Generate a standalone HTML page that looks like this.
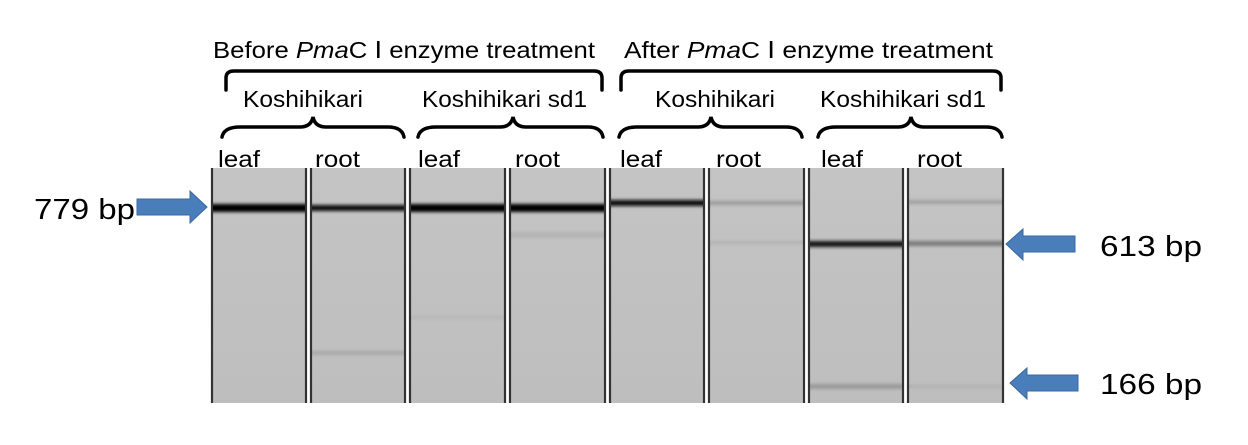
<!DOCTYPE html>
<html><head><meta charset="utf-8"><style>
html,body{margin:0;padding:0;background:#fff;}
svg{display:block;}
text{font-family:"Liberation Sans",sans-serif;fill:#000;}
</style></head><body>
<svg width="1248" height="445" viewBox="0 0 1248 445" xmlns="http://www.w3.org/2000/svg">
<defs>
<linearGradient id="lane" x1="0" y1="0" x2="0" y2="1">
<stop offset="0" stop-color="#c4c4c4"/><stop offset="1" stop-color="#bebebe"/>
</linearGradient>
<filter id="bl" x="-5%" y="-200%" width="110%" height="500%"><feGaussianBlur stdDeviation="0 1.5"/></filter>
</defs>
<g>
<rect x="212" y="168" width="94" height="235" fill="url(#lane)"/>
<rect x="311" y="168" width="94" height="235" fill="url(#lane)"/>
<rect x="410" y="168" width="95" height="235" fill="url(#lane)"/>
<rect x="510" y="168" width="95" height="235" fill="url(#lane)"/>
<rect x="610" y="168" width="94" height="235" fill="url(#lane)"/>
<rect x="709" y="168" width="95" height="235" fill="url(#lane)"/>
<rect x="809" y="168" width="94" height="235" fill="url(#lane)"/>
<rect x="908" y="168" width="95" height="235" fill="url(#lane)"/>
</g>
<g filter="url(#bl)">
<rect x="212" y="204" width="94" height="8" fill="#000"/>
<rect x="311" y="205" width="94" height="6" fill="#111"/>
<rect x="410" y="204" width="95" height="8" fill="#000"/>
<rect x="510" y="204" width="95" height="8" fill="#000"/>
<rect x="610" y="200" width="94" height="6" fill="#111"/>
<rect x="709" y="201" width="95" height="4" fill="#9a9a9a"/>
<rect x="709" y="241" width="95" height="3" fill="#b0b0b0"/>
<rect x="809" y="241" width="94" height="6" fill="#151515"/>
<rect x="908" y="241" width="95" height="5" fill="#7a7a7a"/>
<rect x="908" y="200" width="95" height="4" fill="#a0a0a0"/>
<rect x="809" y="384" width="94" height="5" fill="#9a9a9a"/>
<rect x="908" y="385" width="95" height="3" fill="#b0b0b0"/>
<rect x="311" y="351" width="94" height="4" fill="#a8a8a8"/>
<rect x="510" y="232" width="95" height="6" fill="#b4b4b4"/>
<rect x="410" y="316" width="95" height="3" fill="#b6b6b6"/>
</g>
<g stroke="#333" stroke-width="2.2">
<line x1="212" y1="168" x2="212" y2="403"/>
<line x1="306" y1="168" x2="306" y2="403"/>
<line x1="311" y1="168" x2="311" y2="403"/>
<line x1="405" y1="168" x2="405" y2="403"/>
<line x1="410" y1="168" x2="410" y2="403"/>
<line x1="505" y1="168" x2="505" y2="403"/>
<line x1="510" y1="168" x2="510" y2="403"/>
<line x1="605" y1="168" x2="605" y2="403"/>
<line x1="610" y1="168" x2="610" y2="403"/>
<line x1="704" y1="168" x2="704" y2="403"/>
<line x1="709" y1="168" x2="709" y2="403"/>
<line x1="804" y1="168" x2="804" y2="403"/>
<line x1="809" y1="168" x2="809" y2="403"/>
<line x1="903" y1="168" x2="903" y2="403"/>
<line x1="908" y1="168" x2="908" y2="403"/>
<line x1="1003" y1="168" x2="1003" y2="403"/>
</g>
<g fill="none" stroke="#000" stroke-width="3.5" stroke-linecap="round">
<path d="M226 90 L226 78 Q226 71 234 71 L594 71 Q602 71 602 78 L602 90"/>
<path d="M621 90 L621 78 Q621 71 629 71 L993 71 Q1001 71 1001 78 L1001 90"/>
<path d="M222 137 Q224 127 240 127 L300 127 Q311 127 313 117 Q315 127 326 127 L388 127 Q402 127 404 137"/>
<path d="M418 137 Q420 127 436 127 L500 127 Q511 127 513 117 Q515 127 526 127 L588 127 Q601 127 603 137"/>
<path d="M619 137 Q621 127 637 127 L698 127 Q709 127 711 117 Q713 127 724 127 L786 127 Q800 127 802 137"/>
<path d="M818 137 Q820 127 836 127 L898 127 Q909 127 911 117 Q913 127 924 127 L986 127 Q1000 127 1002 137"/>
</g>
<g font-size="23">
<text x="213" y="58" textLength="382" lengthAdjust="spacingAndGlyphs">Before <tspan font-style="italic">Pma</tspan>C Ⅰ  enzyme treatment</text>
<text x="624" y="58" textLength="369" lengthAdjust="spacingAndGlyphs">After <tspan font-style="italic">Pma</tspan>C Ⅰ  enzyme treatment</text>
<text x="243" y="107" textLength="120" lengthAdjust="spacingAndGlyphs">Koshihikari</text>
<text x="422" y="107" textLength="165" lengthAdjust="spacingAndGlyphs">Koshihikari sd1</text>
<text x="655" y="107" textLength="120" lengthAdjust="spacingAndGlyphs">Koshihikari</text>
<text x="820" y="107" textLength="166" lengthAdjust="spacingAndGlyphs">Koshihikari sd1</text>
<text x="218" y="167" textLength="42" lengthAdjust="spacingAndGlyphs">leaf</text>
<text x="315" y="167" textLength="45" lengthAdjust="spacingAndGlyphs">root</text>
<text x="418" y="167" textLength="42" lengthAdjust="spacingAndGlyphs">leaf</text>
<text x="515" y="167" textLength="45" lengthAdjust="spacingAndGlyphs">root</text>
<text x="620" y="167" textLength="42" lengthAdjust="spacingAndGlyphs">leaf</text>
<text x="716" y="167" textLength="45" lengthAdjust="spacingAndGlyphs">root</text>
<text x="821" y="167" textLength="42" lengthAdjust="spacingAndGlyphs">leaf</text>
<text x="917" y="167" textLength="45" lengthAdjust="spacingAndGlyphs">root</text>
</g>
<g font-size="29">
<text x="34" y="219" textLength="101" lengthAdjust="spacingAndGlyphs">779 bp</text>
<text x="1100" y="256" textLength="102" lengthAdjust="spacingAndGlyphs">613 bp</text>
<text x="1100" y="394" textLength="102" lengthAdjust="spacingAndGlyphs">166 bp</text>
</g>
<g fill="#4a7ebb" stroke="#3a68a0" stroke-width="1">
<path d="M137 199 L190 199 L190 191 L207 207 L190 223 L190 215 L137 215 Z"/>
<path d="M1075 236 L1023 236 L1023 229 L1006 244 L1023 260 L1023 252 L1075 252 Z"/>
<path d="M1078 375 L1027 375 L1027 368 L1010 383 L1027 399 L1027 391 L1078 391 Z"/>
</g>
</svg>
</body></html>
